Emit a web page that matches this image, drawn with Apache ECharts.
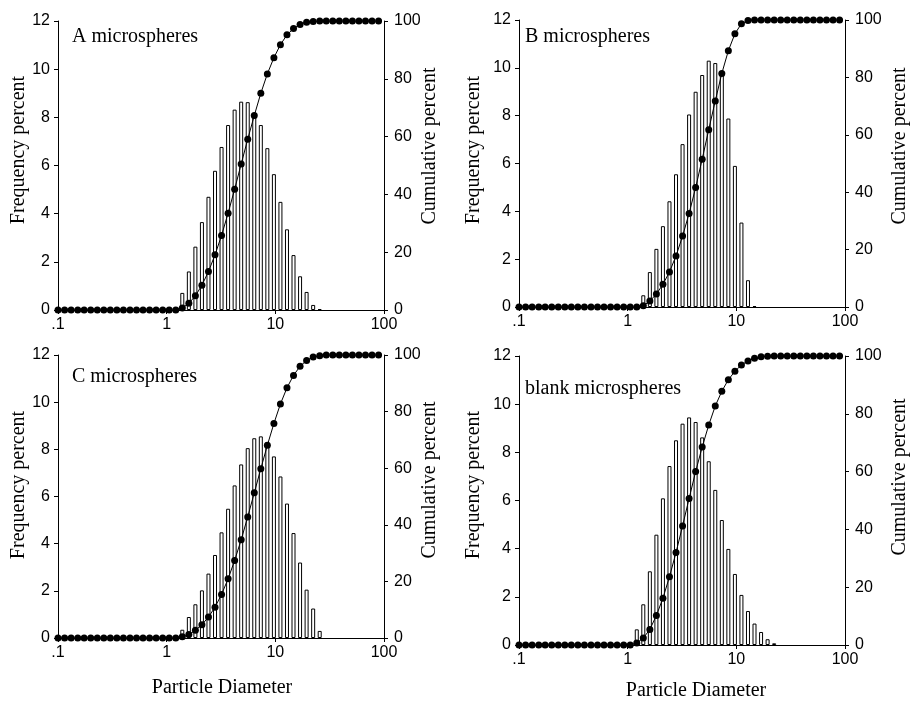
<!DOCTYPE html>
<html>
<head>
<meta charset="utf-8">
<script src="https://cdn.jsdelivr.net/npm/echarts@6/dist/echarts.min.js"></script>
<style>
  html, body { margin: 0; padding: 0; background: #fff; }
  #chart { width: 910px; height: 701px; }
</style>
</head>
<body>
<div id="chart"></div>
<script>
// particle diameter classes (log spaced)
const diameters = [0.1, 0.115, 0.132, 0.152, 0.174, 0.2, 0.23, 0.264, 0.303, 0.348,
  0.4, 0.46, 0.528, 0.606, 0.696, 0.8, 0.919, 1.056, 1.213, 1.393,
  1.6, 1.838, 2.111, 2.425, 2.786, 3.2, 3.676, 4.222, 4.85, 5.572,
  6.4, 7.352, 8.445, 9.701, 11.14, 12.8, 14.7, 16.89, 19.4, 22.29,
  25.6, 29.41, 33.78, 38.8, 44.57, 51.2, 58.81, 67.56, 77.6, 89.14];

const xTickLabels = ['.1', '1', '10', '100'];
const panelNames = ['A microspheres', 'B microspheres', 'C microspheres', 'blank microspheres'];

// frequency percent, first nonzero class index + values
const freqStartA = 19;
const freqA = [0.71, 1.60, 2.63, 3.65, 4.70, 5.78, 6.77, 7.68, 8.32, 8.65, 8.63, 8.16, 7.68, 6.72, 5.64, 4.49, 3.35, 2.28, 1.40, 0.75, 0.21, 0.04];
const freqStartB = 19;
const freqB = [0.49, 1.46, 2.43, 3.38, 4.42, 5.55, 6.81, 8.05, 9.0, 9.7, 10.3, 10.2, 9.7, 7.88, 5.90, 3.53, 1.12, 0.04];
const freqStartC = 19;
const freqC = [0.35, 0.89, 1.43, 2.02, 2.73, 3.52, 4.48, 5.48, 6.47, 7.36, 8.05, 8.47, 8.55, 8.3, 7.70, 6.85, 5.70, 4.45, 3.20, 2.05, 1.25, 0.30];
const freqStartD = 18;
const freqD = [0.65, 1.69, 3.06, 4.58, 6.09, 7.43, 8.50, 9.19, 9.45, 9.26, 8.62, 7.63, 6.44, 5.19, 3.99, 2.95, 2.08, 1.41, 0.89, 0.54, 0.24, 0.07];

// cumulative percent, one value per diameter class
const cumA = [0, 0, 0, 0, 0, 0, 0, 0, 0, 0, 0, 0, 0, 0, 0, 0, 0, 0, 0, 0.7,
  2.3, 4.9, 8.6, 13.3, 19.1, 25.8, 33.5, 41.8, 50.5, 59.1,
  67.3, 75.0, 81.7, 87.3, 91.8, 95.2, 97.4, 98.8, 99.6, 99.8,
  100, 100, 100, 100, 100, 100, 100, 100, 100, 100];
const cumB = [0, 0, 0, 0, 0, 0, 0, 0, 0, 0, 0, 0, 0, 0, 0, 0, 0, 0, 0, 0.4,
  2.1, 4.5, 7.9, 12.2, 17.8, 24.7, 32.6, 41.6, 51.5, 61.8,
  71.8, 81.4, 89.3, 95.2, 98.7, 99.8, 100, 100, 100, 100,
  100, 100, 100, 100, 100, 100, 100, 100, 100, 100];
const cumC = [0, 0, 0, 0, 0, 0, 0, 0, 0, 0, 0, 0, 0, 0, 0, 0, 0, 0, 0, 0.4,
  1.2, 2.7, 4.7, 7.4, 10.9, 15.4, 20.9, 27.4, 34.7, 42.8,
  51.3, 59.8, 68.1, 75.8, 82.7, 88.4, 92.8, 96.0, 98.1, 99.3,
  99.7, 100, 100, 100, 100, 100, 100, 100, 100, 100];
const cumD = [0, 0, 0, 0, 0, 0, 0, 0, 0, 0, 0, 0, 0, 0, 0, 0, 0, 0, 0.7, 2.4,
  5.4, 10.2, 16.2, 23.6, 32.0, 41.2, 50.7, 60.0, 68.5, 76.1,
  82.7, 87.8, 91.8, 94.7, 96.9, 98.3, 99.2, 99.7, 99.9, 100,
  100, 100, 100, 100, 100, 100, 100, 100, 100, 100];

const panels = [
  { freq: freqA, start: freqStartA, cum: cumA },
  { freq: freqB, start: freqStartB, cum: cumB },
  { freq: freqC, start: freqStartC, cum: cumC },
  { freq: freqD, start: freqStartD, cum: cumD }
];

// layout of the 4 plots
const grids = [
  { left: 58, top: 21, width: 326, height: 289 },
  { left: 519, top: 20, width: 326, height: 287 },
  { left: 58, top: 355, width: 326, height: 283 },
  { left: 519, top: 356, width: 326, height: 289 }
];

const tickFont = { fontFamily: 'Liberation Sans, Arial', fontSize: 16, color: '#000' };
const serif = 'Liberation Serif, Times New Roman, serif';

const myChart = echarts.init(document.getElementById('chart'));

const xAxis = [];
const yAxis = [];
const series = [];

panels.forEach((p, i) => {
  xAxis.push({
    type: 'log',
    logBase: 10,
    gridIndex: i,
    min: 0.1,
    max: 100,
    axisLine: { onZero: false, lineStyle: { color: '#000', width: 1 } },
    axisTick: { show: true, length: 4, lineStyle: { color: '#000' } },
    splitLine: { show: false },
    axisLabel: Object.assign({
      margin: 7,
      formatter: v => {
        const k = Math.round(Math.log10(v)) + 1;
        return xTickLabels[k];
      }
    }, tickFont)
  });
  // frequency axis (left)
  yAxis.push({
    type: 'value',
    gridIndex: i,
    min: 0,
    max: 12,
    interval: 2,
    position: 'left',
    axisLine: { show: true, lineStyle: { color: '#000', width: 1 } },
    axisTick: { show: true, length: 4, lineStyle: { color: '#000' } },
    splitLine: { show: false },
    axisLabel: Object.assign({ margin: 8 }, tickFont)
  });
  // cumulative axis (right)
  yAxis.push({
    type: 'value',
    gridIndex: i,
    min: 0,
    max: 100,
    interval: 20,
    position: 'right',
    axisLine: { show: true, lineStyle: { color: '#000', width: 1 } },
    axisTick: { show: true, length: 4, lineStyle: { color: '#000' } },
    splitLine: { show: false },
    axisLabel: Object.assign({ margin: 10 }, tickFont)
  });

  series.push({
    type: 'bar',
    xAxisIndex: i,
    yAxisIndex: 2 * i,
    barWidth: 4,
    itemStyle: { color: '#fff', borderColor: '#000', borderWidth: 1 },
    data: p.freq.map((v, k) => [diameters[p.start + k], v]),
    z: 2
  });
  series.push({
    type: 'line',
    xAxisIndex: i,
    yAxisIndex: 2 * i + 1,
    symbol: 'circle',
    symbolSize: 7,
    showAllSymbol: true,
    itemStyle: { color: '#000' },
    lineStyle: { color: '#000', width: 1 },
    data: p.cum.map((v, k) => [diameters[k], v]),
    z: 3
  });
});

// texts: panel names and axis names
const labelPos = [
  { name: [72, 37], freq: [19, 150], cum: [430, 146] },
  { name: [525, 37], freq: [474, 150], cum: [900, 146] },
  { name: [72, 377], freq: [19, 485], cum: [430, 480] },
  { name: [525, 389], freq: [474, 485], cum: [900, 477] }
];

const graphic = [];
labelPos.forEach((lp, i) => {
  graphic.push({
    type: 'text', x: lp.name[0], y: lp.name[1],
    style: { text: panelNames[i], font: '20px ' + serif, fill: '#000', textAlign: 'left', textVerticalAlign: 'middle' }
  });
  graphic.push({
    type: 'text', x: lp.freq[0], y: lp.freq[1], rotation: Math.PI / 2,
    style: { text: 'Frequency percent', font: '20px ' + serif, fill: '#000', textAlign: 'center', textVerticalAlign: 'middle' }
  });
  graphic.push({
    type: 'text', x: lp.cum[0], y: lp.cum[1], rotation: Math.PI / 2,
    style: { text: 'Cumulative percent', font: '20px ' + serif, fill: '#000', textAlign: 'center', textVerticalAlign: 'middle' }
  });
});
[[222, 688], [696, 691]].forEach(pos => {
  graphic.push({
    type: 'text', x: pos[0], y: pos[1],
    style: { text: 'Particle Diameter', font: '20px ' + serif, fill: '#000', textAlign: 'center', textVerticalAlign: 'middle' }
  });
});

const option = {
  animation: false,
  backgroundColor: '#fff',
  grid: grids.map(g => Object.assign({ containLabel: false }, g)),
  xAxis: xAxis,
  yAxis: yAxis,
  series: series,
  graphic: graphic
};

myChart.setOption(option);

window.addEventListener('resize', () => {
  myChart.resize();
});
</script>
</body>
</html>
